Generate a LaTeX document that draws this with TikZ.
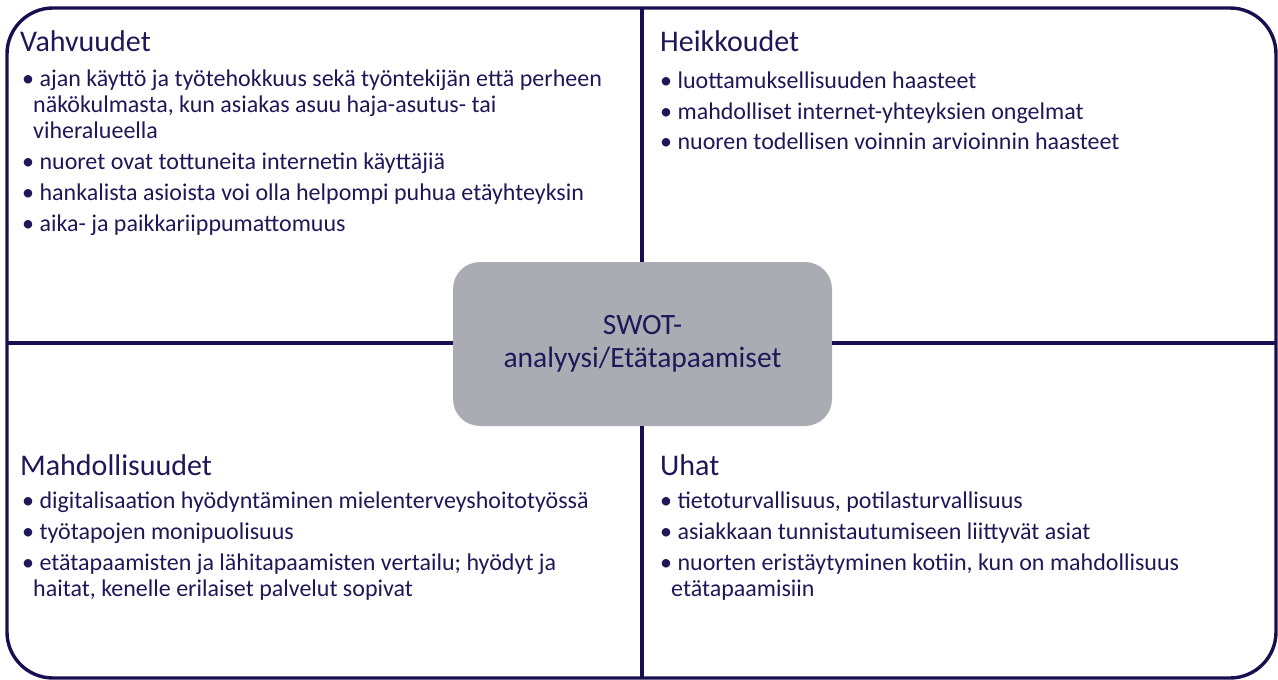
\documentclass[tikz,border=0pt]{standalone}
\usepackage{fontspec}
\setmainfont{Carlito}
\definecolor{frameblue}{RGB}{25,15,80}
\definecolor{inkblue}{RGB}{30,24,88}
\definecolor{hubgray}{RGB}{171,171,179}
\newcommand{\cont}{\hspace*{11pt}}
% a list whose baseline is that of its first line
\newenvironment{pointlist}{\begin{tabular}[t]{@{}l@{}}}{\end{tabular}}
\begin{document}
\begin{tikzpicture}[x=1pt,y=-1pt,
  frame/.style={draw=frameblue,line width=3.4pt},
  heading/.style={anchor=base west,inner sep=0pt,text=inkblue,
    font=\fontsize{30}{34}\selectfont},
  body/.style={anchor=base west,inner sep=0pt,text=inkblue,
    font=\fontsize{24}{26}\selectfont},
  hub/.style={fill=hubgray,rounded corners=27pt,minimum width=379pt,
    minimum height=164pt,text=inkblue,align=center,
    font=\fontsize{29.5}{33}\selectfont}]
\useasboundingbox (0,0) rectangle (1278,680);

% outer frame
\draw[frame,rounded corners=46pt] (7,8) rectangle (1276,678);

% centre label (placed first so the dividers can end on it)
\node[hub] (swot) at (642.5,344) {\raisebox{-2.5pt}{\begin{tabular}{@{}c@{}}SWOT-\\analyysi/Etätapaamiset\end{tabular}}};

% quadrant dividers
\coordinate (ntop) at (642,8);
\coordinate (nbot) at (642,678);
\coordinate (wmid) at (7,343);
\coordinate (emid) at (1276,343);
\draw[frame] (ntop) -- (ntop |- swot.north);
\draw[frame] (nbot |- swot.south) -- (nbot);
\draw[frame] (wmid) -- (wmid -| swot.west);
\draw[frame] (emid -| swot.east) -- (emid);

% strengths
\node[heading] (sh) at (20,51) {Vahvuudet};
\node[body] (sb) at (22,86) {\begin{pointlist}
  •\ ajan käyttö ja työtehokkuus sekä työntekijän että perheen\\
  \cont näkökulmasta, kun asiakas asuu haja-asutus- tai\\
  \cont viheralueella\\[5pt]
  •\ nuoret ovat tottuneita internetin käyttäjiä\\[5pt]
  •\ hankalista asioista voi olla helpompi puhua etäyhteyksin\\[5pt]
  •\ aika- ja paikkariippumattomuus
  \end{pointlist}};

% weaknesses
\node[heading] (wh) at (660,51) {Heikkoudet};
\node[body] (wb) at (660,88) {\begin{pointlist}
  •\ luottamuksellisuuden haasteet\\[5pt]
  •\ mahdolliset internet-yhteyksien ongelmat\\[5pt]
  •\ nuoren todellisen voinnin arvioinnin haasteet
  \end{pointlist}};

% opportunities
\node[heading] (oh) at (20,475) {Mahdollisuudet};
\node[body] (ob) at (22,508) {\begin{pointlist}
  •\ digitalisaation hyödyntäminen mielenterveyshoitotyössä\\[5pt]
  •\ työtapojen monipuolisuus\\[5pt]
  •\ etätapaamisten ja lähitapaamisten vertailu; hyödyt ja\\
  \cont haitat, kenelle erilaiset palvelut sopivat
  \end{pointlist}};

% threats
\node[heading] (th) at (660,475) {Uhat};
\node[body] (tb) at (660,508) {\begin{pointlist}
  •\ tietoturvallisuus, potilasturvallisuus\\[5pt]
  •\ asiakkaan tunnistautumiseen liittyvät asiat\\[5pt]
  •\ nuorten eristäytyminen kotiin, kun on mahdollisuus\\
  \cont etätapaamisiin
  \end{pointlist}};
\end{tikzpicture}
\end{document}
